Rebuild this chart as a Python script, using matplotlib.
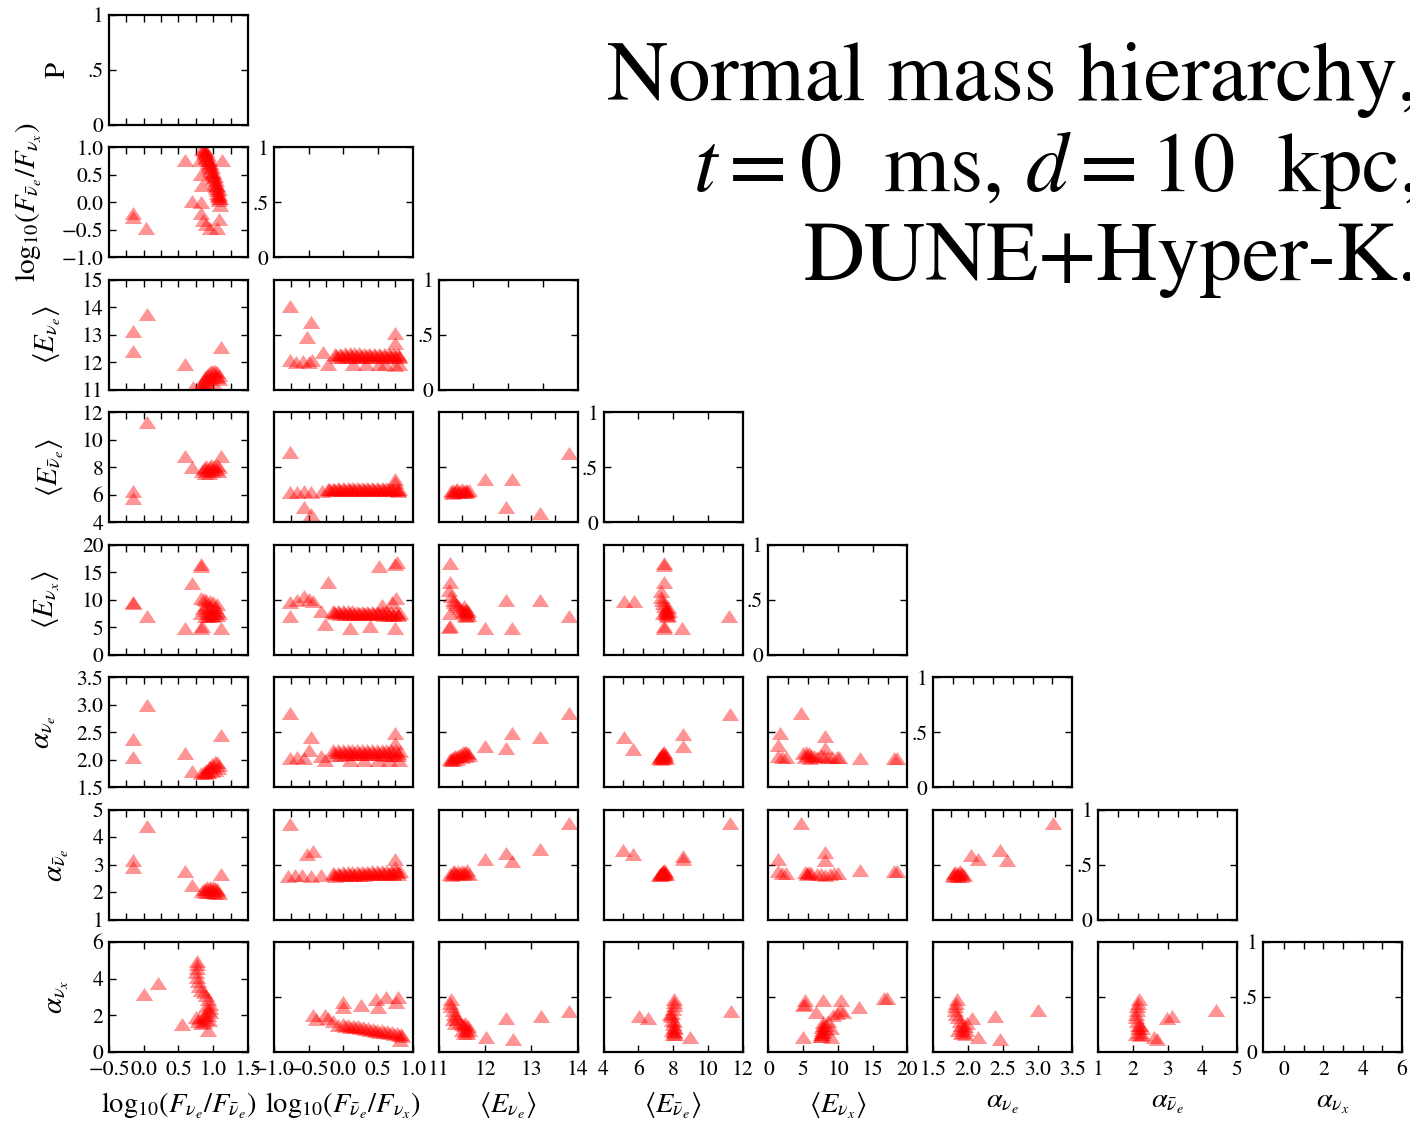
import matplotlib
matplotlib.use("Agg")
import matplotlib.pyplot as plt

plt.rcParams["font.family"] = ["STIXGeneral", "DejaVu Serif"]
plt.rcParams["mathtext.fontset"] = "stix"

# ---- parameter names / ranges ----
names = [r"$\mathrm{log}_{10}(F_{\nu_e}/F_{\bar{\nu}_e})$",
         r"$\mathrm{log}_{10}(F_{\bar{\nu}_e}/F_{\nu_x})$",
         r"$\left\langle E_{\nu_e}\right\rangle$",
         r"$\left\langle E_{\bar{\nu}_e}\right\rangle$",
         r"$\left\langle E_{\nu_x}\right\rangle$",
         r"$\alpha_{\nu_e}$",
         r"$\alpha_{\bar{\nu}_e}$",
         r"$\alpha_{\nu_x}$"]
xlims = [(-0.5, 1.5), (-1, 1), (11, 14), (4, 12), (0, 20), (1.5, 3.5), (1, 5), (-1.07, 6)]
ylims = [(0, 1), (-1, 1), (11, 15), (4, 12), (0, 20), (1.5, 3.5), (1, 5), (0, 6)]

# tick labels, bottom row (x) and first column (y)
bottom_ticks = [[-0.5, 0.0, 0.5, 1.0, 1.5], [-1.0, -0.5, 0.0, 0.5, 1.0], [11, 12, 13, 14],
                [4, 6, 8, 10, 12], [0, 5, 10, 15, 20], [1.5, 2.0, 2.5, 3.0, 3.5],
                [1, 2, 3, 4, 5], [0, 2, 4, 6]]
bottom_labels = [["\u22120.5", "0.0", "0.5", "1.0", "1.5"],
                 ["\u22121.0", "\u22120.5", "0.0", "0.5", "1.0"],
                 ["11", "12", "13", "14"], ["4", "6", "8", "10", "12"],
                 ["0", "5", "10", "15", "20"], ["1.5", "2.0", "2.5", "3.0", "3.5"],
                 ["1", "2", "3", "4", "5"], ["0", "2", "4", "6"]]
left_ticks = [[0, 0.5, 1], [-1.0, -0.5, 0.0, 0.5, 1.0], [11, 12, 13, 14, 15],
              [4, 6, 8, 10, 12], [0, 5, 10, 15, 20], [1.5, 2.0, 2.5, 3.0, 3.5],
              [1, 2, 3, 4, 5], [0, 2, 4, 6]]
left_labels = [["0", ".5", "1"], ["\u22121.0", "\u22120.5", "0.0", "0.5", "1.0"],
               ["11", "12", "13", "14", "15"], ["4", "6", "8", "10", "12"],
               ["0", "5", "10", "15", "20"], ["1.5", "2.0", "2.5", "3.0", "3.5"],
               ["1", "2", "3", "4", "5"], ["0", "2", "4", "6"]]
upper_div = [8, 8, 6, 7, 7, 8, 7, 7]
diag_div = [8, 4, 4, 4, 4, 7, 7, 7]

# ---- scatter points, one list per panel: row = y parameter, col = x parameter ----
r1_c0 = [(-0.16, -0.20), (-0.15, -0.26), (0.03, -0.46), (0.60, 0.78), (0.70, 0.03),
         (0.81, 0.78), (0.83, 0.52), (0.84, 0.32), (0.83, 0.00), (0.82, -0.20),
         (0.85, -0.32), (0.90, -0.40), (0.96, -0.46), (1.05, -0.46), (1.08, -0.30),
         (1.10, -0.05), (1.12, 0.78),
         (0.84, 0.98), (0.86, 0.92), (0.88, 0.86), (0.90, 0.80), (0.92, 0.73), (0.94, 0.66),
         (0.96, 0.58), (0.98, 0.50), (1.00, 0.42), (1.02, 0.34), (1.04, 0.26), (1.06, 0.18),
         (1.07, 0.11), (1.08, 0.05), (0.87, 0.98), (0.90, 0.93), (0.92, 0.86), (0.94, 0.79),
         (0.96, 0.72), (0.98, 0.64), (1.00, 0.56), (1.02, 0.48), (1.04, 0.40), (1.06, 0.32),
         (1.08, 0.24), (1.09, 0.16), (1.10, 0.08),
         (0.86, 0.95), (0.88, 0.89), (0.90, 0.83), (0.92, 0.77), (0.94, 0.70), (0.96, 0.62),
         (0.98, 0.54), (1.00, 0.46), (1.02, 0.38), (1.04, 0.30), (1.06, 0.22), (1.07, 0.14),
         (1.08, 0.08)]
r2_c0 = [(-0.16, 13.13), (-0.16, 12.42), (0.04, 13.77), (0.60, 11.93), (1.11, 12.55), (0.71, 11.10),
         (0.80, 11.05), (0.82, 11.15), (0.84, 11.25), (0.86, 11.35), (0.88, 11.45), (0.91, 11.55),
         (0.94, 11.62), (0.97, 11.68), (1.00, 11.70), (1.03, 11.70), (1.06, 11.64), (1.08, 11.55),
         (0.87, 11.15), (0.90, 11.28), (0.94, 11.40), (0.98, 11.48), (1.02, 11.50), (1.06, 11.45),
         (1.08, 11.38), (0.85, 11.02), (0.93, 11.12), (0.99, 11.30)]
r3_c0 = [(-0.16, 6.30), (-0.16, 5.75), (0.04, 11.27), (0.60, 8.85), (0.70, 8.00), (1.11, 8.85),
         (0.84, 7.70), (0.86, 7.95), (0.89, 8.10), (0.92, 7.80), (0.95, 8.05), (0.98, 7.70),
         (1.01, 8.10), (1.04, 7.85), (1.07, 7.70), (1.08, 8.05), (0.88, 7.60), (0.94, 7.60),
         (1.00, 7.90), (1.05, 8.15), (0.90, 7.85), (0.97, 8.15)]
r4_c0 = [(-0.16, 9.67), (-0.15, 9.40), (0.04, 7.10), (0.60, 4.80), (0.70, 12.96), (0.82, 16.50),
         (0.82, 16.20), (0.82, 4.90), (0.84, 5.20), (1.11, 4.90),
         (0.83, 10.30), (0.87, 10.20), (0.90, 10.00), (0.95, 9.80), (1.00, 9.60), (1.05, 9.20),
         (0.85, 8.50), (0.90, 8.20), (0.95, 7.60), (1.00, 7.30), (1.05, 7.20), (1.08, 7.50),
         (0.88, 7.00), (0.93, 7.00), (1.00, 8.20), (0.95, 8.70), (1.05, 8.00), (0.83, 7.60),
         (0.98, 7.00), (1.03, 7.60), (0.92, 7.80), (0.97, 7.30), (1.02, 8.60), (0.90, 9.10)]
r5_c0 = [(-0.16, 2.37), (-0.16, 2.04), (0.04, 2.99), (0.60, 2.12), (1.11, 2.45), (0.70, 1.80),
         (0.82, 1.76), (0.86, 1.78), (0.90, 1.82), (0.94, 1.87), (0.98, 1.92), (1.02, 1.95),
         (1.05, 1.95), (1.08, 1.90), (0.88, 1.76), (0.93, 1.78), (0.98, 1.80), (1.03, 1.82),
         (1.07, 1.85), (0.96, 1.86), (1.00, 1.88), (0.91, 1.77)]
r6_c0 = [(-0.16, 3.15), (-0.16, 2.90), (0.04, 4.40), (0.60, 2.78), (0.70, 2.24), (1.11, 2.67),
         (0.84, 2.05), (0.87, 2.12), (0.91, 2.18), (0.95, 2.20), (0.99, 2.20), (1.03, 2.15),
         (1.06, 2.05), (1.08, 1.98), (0.88, 2.00), (0.93, 2.02), (0.98, 2.00), (1.02, 1.98),
         (0.96, 2.10), (0.90, 2.10), (1.05, 2.12), (1.00, 2.08)]
r7_c0 = [(0.00, 3.18), (0.20, 3.76), (0.55, 1.51), (0.92, 1.18),
         (0.77, 4.95), (0.77, 4.80), (0.76, 4.60), (0.75, 4.35), (0.77, 4.10), (0.78, 3.85),
         (0.80, 3.60), (0.83, 3.40), (0.86, 3.30), (0.90, 3.10), (0.92, 2.90), (0.95, 2.60),
         (0.96, 2.40), (0.95, 2.20), (0.93, 2.00), (0.90, 1.80), (0.86, 1.65), (0.82, 1.60),
         (0.78, 1.70), (0.75, 1.90), (0.88, 2.00), (0.92, 2.30), (0.85, 1.90), (0.90, 2.50),
         (0.94, 1.75), (0.80, 1.85)]

r2_c1 = [(-0.77, 14.04), (-0.46, 13.47), (-0.53, 12.93), (-0.77, 12.08), (-0.68, 12.00),
         (-0.58, 12.05), (-0.50, 12.00), (-0.45, 12.10), (-0.29, 12.36), (-0.22, 11.95),
         (0.14, 11.93), (0.33, 11.93), (0.52, 11.93), (0.74, 11.90), (0.74, 13.05),
         (0.74, 12.69), (0.60, 11.95), (0.80, 11.95),
         (-0.12, 12.32), (-0.05, 12.32), (0.02, 12.33), (0.09, 12.33), (0.16, 12.33), (0.23, 12.33),
         (0.30, 12.32), (0.37, 12.32), (0.44, 12.32), (0.51, 12.31), (0.58, 12.31), (0.65, 12.31),
         (0.72, 12.30), (0.79, 12.30),
         (-0.10, 12.26), (-0.03, 12.26), (0.04, 12.27), (0.11, 12.27), (0.18, 12.27), (0.25, 12.27),
         (0.32, 12.26), (0.39, 12.26), (0.46, 12.26), (0.53, 12.26), (0.60, 12.25), (0.67, 12.25),
         (0.74, 12.25), (0.80, 12.24),
         (-0.09, 12.20), (-0.02, 12.21), (0.05, 12.21), (0.12, 12.21), (0.19, 12.21), (0.26, 12.21),
         (0.33, 12.20), (0.40, 12.20), (0.47, 12.20), (0.54, 12.20), (0.61, 12.19), (0.68, 12.19),
         (0.75, 12.19), (0.80, 12.18)]
r3_c1 = [(-0.77, 9.09), (-0.77, 6.18), (-0.67, 6.20), (-0.57, 6.25), (-0.46, 6.20),
         (-0.57, 5.10), (-0.46, 4.60), (-0.30, 6.30), (0.74, 7.15), (0.75, 6.90),
         (-0.22, 6.45), (-0.15, 6.45), (-0.08, 6.46), (-0.01, 6.46), (0.06, 6.47), (0.13, 6.47),
         (0.20, 6.47), (0.27, 6.47), (0.34, 6.47), (0.41, 6.47), (0.48, 6.47), (0.55, 6.46),
         (0.62, 6.46), (0.69, 6.45), (0.76, 6.45), (0.80, 6.44),
         (-0.20, 6.39), (-0.13, 6.39), (-0.06, 6.40), (0.01, 6.40), (0.08, 6.41), (0.15, 6.41),
         (0.22, 6.41), (0.29, 6.41), (0.36, 6.41), (0.43, 6.41), (0.50, 6.40), (0.57, 6.40),
         (0.64, 6.39), (0.71, 6.39), (0.78, 6.38),
         (-0.19, 6.32), (-0.12, 6.32), (-0.05, 6.33), (0.02, 6.33), (0.09, 6.34), (0.16, 6.34),
         (0.23, 6.34), (0.30, 6.34), (0.37, 6.34), (0.44, 6.34), (0.51, 6.33), (0.58, 6.33),
         (0.65, 6.32), (0.72, 6.32), (0.79, 6.31)]
r4_c1 = [(-0.77, 9.67), (-0.77, 7.10), (-0.67, 10.00), (-0.57, 10.60), (-0.50, 10.20),
         (-0.44, 9.70), (-0.22, 13.30), (-0.32, 7.90), (-0.27, 5.50), (0.09, 4.90),
         (0.38, 5.20), (0.52, 16.20), (0.74, 16.50), (0.77, 16.80), (0.74, 4.90),
         (0.76, 10.30), (0.55, 9.10), (0.70, 9.50),
         (-0.15, 7.95), (-0.08, 7.93), (-0.01, 7.91), (0.06, 7.89), (0.13, 7.87), (0.20, 7.85),
         (0.27, 7.83), (0.34, 7.81), (0.41, 7.79), (0.48, 7.77), (0.55, 7.75), (0.62, 7.73),
         (0.69, 7.71), (0.76, 7.69), (0.81, 7.67),
         (-0.13, 7.72), (-0.06, 7.70), (0.01, 7.68), (0.08, 7.66), (0.15, 7.64), (0.22, 7.62),
         (0.29, 7.60), (0.36, 7.58), (0.43, 7.56), (0.50, 7.54), (0.57, 7.52), (0.64, 7.50),
         (0.71, 7.48), (0.78, 7.46),
         (-0.12, 7.50), (-0.05, 7.48), (0.02, 7.46), (0.09, 7.44), (0.16, 7.42), (0.23, 7.40),
         (0.30, 7.38), (0.37, 7.36), (0.44, 7.34), (0.51, 7.32), (0.58, 7.30), (0.65, 7.28),
         (0.72, 7.26), (0.79, 7.24)]
r5_c1 = [(-0.77, 2.84), (-0.77, 2.03), (-0.67, 2.05), (-0.57, 2.03), (-0.50, 2.18),
         (-0.46, 2.42), (-0.32, 2.06), (-0.27, 2.00), (0.74, 2.48), (0.74, 2.30),
         (0.10, 2.00), (0.30, 2.00), (0.50, 2.00), (0.65, 2.00), (0.80, 2.00),
         (-0.15, 2.17), (-0.08, 2.17), (-0.01, 2.18), (0.06, 2.18), (0.13, 2.18), (0.20, 2.18),
         (0.27, 2.18), (0.34, 2.18), (0.41, 2.18), (0.48, 2.18), (0.55, 2.18), (0.62, 2.17),
         (0.69, 2.17), (0.76, 2.17), (0.81, 2.16),
         (-0.13, 2.13), (-0.06, 2.13), (0.01, 2.14), (0.08, 2.14), (0.15, 2.14), (0.22, 2.14),
         (0.29, 2.14), (0.36, 2.14), (0.43, 2.14), (0.50, 2.14), (0.57, 2.13), (0.64, 2.13),
         (0.71, 2.13), (0.78, 2.12),
         (-0.12, 2.09), (-0.05, 2.09), (0.02, 2.10), (0.09, 2.10), (0.16, 2.10), (0.23, 2.10),
         (0.30, 2.10), (0.37, 2.10), (0.44, 2.10), (0.51, 2.10), (0.58, 2.09), (0.65, 2.09),
         (0.72, 2.09), (0.79, 2.08)]
r6_c1 = [(-0.77, 4.46), (-0.53, 3.39), (-0.44, 3.50), (-0.80, 2.60), (-0.70, 2.62),
         (-0.60, 2.62), (-0.46, 2.60), (-0.32, 2.62), (0.74, 3.20), (0.74, 2.90),
         (-0.15, 2.70), (-0.08, 2.71), (-0.01, 2.72), (0.06, 2.72), (0.13, 2.73), (0.20, 2.73),
         (0.27, 2.74), (0.34, 2.74), (0.41, 2.75), (0.48, 2.75), (0.55, 2.76), (0.62, 2.76),
         (0.69, 2.77), (0.76, 2.77), (0.81, 2.78),
         (-0.13, 2.65), (-0.06, 2.66), (0.01, 2.66), (0.08, 2.67), (0.15, 2.67), (0.22, 2.68),
         (0.29, 2.68), (0.36, 2.69), (0.43, 2.69), (0.50, 2.70), (0.57, 2.70), (0.64, 2.71),
         (0.71, 2.71), (0.78, 2.72),
         (-0.12, 2.60), (-0.05, 2.61), (0.02, 2.61), (0.09, 2.62), (0.16, 2.62), (0.23, 2.63),
         (0.30, 2.63), (0.37, 2.64), (0.44, 2.64), (0.51, 2.65), (0.58, 2.65), (0.65, 2.66),
         (0.72, 2.66), (0.79, 2.67)]
r7_c1 = [(-0.44, 2.00), (-0.40, 1.80), (-0.27, 2.00), (-0.22, 1.85), (0.00, 2.73),
         (0.00, 2.45), (0.26, 2.55), (0.47, 2.90), (0.50, 2.45), (0.62, 3.00),
         (0.78, 3.00), (0.76, 2.75), (0.81, 0.64), (-0.08, 1.50), (-0.15, 1.70),
         (0.00, 1.53), (0.07, 1.49), (0.14, 1.44), (0.21, 1.40), (0.28, 1.36), (0.35, 1.31),
         (0.42, 1.27), (0.49, 1.22), (0.56, 1.18), (0.63, 1.13), (0.70, 1.09), (0.77, 1.04),
         (0.83, 1.00),
         (0.03, 1.42), (0.10, 1.38), (0.17, 1.34), (0.24, 1.29), (0.31, 1.25), (0.38, 1.20),
         (0.45, 1.16), (0.52, 1.11), (0.59, 1.07), (0.66, 1.02), (0.73, 0.98), (0.80, 0.93),
         (0.85, 0.89)]

r3_c2 = [(12.01, 7.15), (12.59, 7.15), (12.45, 5.14), (13.19, 4.70), (13.82, 9.07),
         (11.26, 6.25), (11.30, 6.38), (11.34, 6.22), (11.38, 6.32), (11.42, 6.20),
         (11.46, 6.30), (11.50, 6.42), (11.54, 6.30), (11.58, 6.38), (11.62, 6.26),
         (11.65, 6.35), (11.28, 6.15), (11.40, 6.42), (11.52, 6.18), (11.60, 6.18)]
r4_c2 = [(11.25, 16.70), (11.24, 13.30), (11.22, 11.80), (12.45, 10.00), (13.19, 10.00),
         (12.01, 4.85), (12.59, 4.85), (13.82, 7.10), (11.25, 5.20), (11.23, 5.00),
         (11.25, 7.60), (11.27, 10.60), (11.30, 10.00), (11.34, 9.60), (11.38, 9.20),
         (11.42, 8.80), (11.47, 8.50), (11.55, 8.80), (11.58, 8.40), (11.60, 8.00),
         (11.62, 7.60), (11.63, 7.20), (11.57, 7.30), (11.52, 7.70), (11.50, 8.20),
         (11.60, 7.00), (11.64, 7.90), (11.56, 7.90)]
r5_c2 = [(12.01, 2.25), (12.45, 2.21), (12.59, 2.48), (13.19, 2.42), (13.82, 2.84),
         (11.24, 2.02), (11.28, 2.03), (11.32, 2.05), (11.36, 2.06), (11.40, 2.07),
         (11.44, 2.09), (11.48, 2.11), (11.52, 2.13), (11.56, 2.14), (11.60, 2.14),
         (11.64, 2.12), (11.66, 2.08), (11.30, 2.00), (11.40, 2.01), (11.50, 2.04),
         (11.58, 2.06), (11.26, 2.00)]
r6_c2 = [(12.01, 3.20), (12.45, 3.43), (12.59, 3.13), (13.19, 3.55), (13.82, 4.50),
         (11.24, 2.65), (11.30, 2.72), (11.35, 2.68), (11.40, 2.65), (11.45, 2.70),
         (11.50, 2.78), (11.55, 2.74), (11.60, 2.70), (11.65, 2.66), (11.28, 2.62),
         (11.42, 2.75), (11.52, 2.64), (11.62, 2.80), (11.34, 2.76)]
r7_c2 = [(12.03, 0.82), (12.60, 0.73), (12.46, 1.88), (13.20, 1.96), (13.82, 2.25),
         (11.27, 2.90), (11.25, 2.70), (11.27, 2.50), (11.30, 2.30), (11.33, 2.10),
         (11.37, 1.95), (11.40, 1.80), (11.45, 1.65), (11.50, 1.55), (11.55, 1.45),
         (11.58, 1.30), (11.60, 1.15), (11.62, 1.02), (11.55, 1.05), (11.50, 1.20),
         (11.65, 1.20), (11.57, 1.60), (11.35, 1.60), (11.30, 1.80), (11.64, 1.40)]

r4_c3 = [(5.16, 9.70), (5.73, 9.70), (11.23, 7.00), (8.53, 4.85), (7.47, 16.70),
         (7.47, 16.40), (7.47, 13.30), (7.30, 11.50), (7.28, 10.50), (7.47, 4.85),
         (7.50, 5.20), (7.35, 9.90), (7.42, 9.40), (7.50, 8.90), (7.57, 8.50),
         (7.62, 8.10), (7.67, 7.70), (7.72, 7.30), (7.65, 7.00), (7.58, 7.40),
         (7.75, 8.00), (7.70, 8.60), (7.60, 7.80), (7.45, 7.50)]
r5_c3 = [(5.16, 2.41), (5.70, 2.19), (8.57, 2.47), (8.57, 2.25), (11.26, 2.83),
         (7.20, 2.03), (7.25, 2.05), (7.30, 2.07), (7.35, 2.10), (7.40, 2.12),
         (7.47, 2.14), (7.52, 2.10), (7.56, 2.06), (7.60, 2.03), (7.30, 2.02),
         (7.45, 2.03), (7.40, 2.06), (7.50, 2.05)]
r6_c3 = [(5.12, 3.54), (5.70, 3.38), (8.57, 3.20), (8.60, 3.30), (11.26, 4.50),
         (7.20, 2.63), (7.25, 2.66), (7.30, 2.70), (7.35, 2.74), (7.40, 2.78),
         (7.47, 2.82), (7.52, 2.76), (7.56, 2.70), (7.60, 2.64), (7.40, 2.64),
         (7.50, 2.66), (7.30, 2.63), (7.45, 2.72)]
r7_c3 = [(6.05, 1.96), (6.53, 1.88), (8.99, 0.82), (11.33, 2.25),
         (8.07, 2.90), (8.05, 2.75), (8.03, 2.55), (8.00, 2.35), (7.95, 2.15),
         (7.90, 1.95), (7.93, 1.75), (7.98, 1.55), (8.03, 1.35), (8.07, 1.15),
         (8.10, 1.00), (8.00, 1.00), (7.95, 1.20), (8.12, 1.30), (7.85, 2.10),
         (8.08, 1.70), (8.05, 1.08)]

r5_c4 = [(4.72, 2.84), (1.69, 2.49), (1.45, 2.27), (8.19, 2.43), (8.19, 2.21),
         (13.25, 2.03), (18.07, 2.03), (18.50, 2.03),
         (1.45, 2.06), (1.90, 2.05), (2.60, 2.05), (5.00, 2.12), (5.40, 2.14),
         (5.80, 2.12), (6.20, 2.08), (6.60, 2.06), (7.00, 2.04), (7.50, 2.08),
         (8.00, 2.06), (8.60, 2.05), (9.20, 2.04), (9.80, 2.05), (5.20, 2.05),
         (6.00, 2.03), (10.20, 2.05), (5.60, 2.08)]
r6_c4 = [(4.72, 4.50), (1.45, 3.20), (8.19, 3.44), (8.19, 3.18), (13.25, 2.80),
         (18.07, 2.76), (18.50, 2.76),
         (1.45, 2.76), (1.90, 2.70), (2.50, 2.70), (5.20, 2.72), (5.50, 2.70),
         (5.80, 2.72), (6.20, 2.68), (7.00, 2.66), (7.60, 2.66), (8.20, 2.62),
         (8.80, 2.65), (9.40, 2.70), (10.00, 2.68), (5.50, 2.64)]
r7_c4 = [(5.00, 0.82), (5.24, 2.84), (5.00, 2.56), (7.86, 2.84), (6.90, 2.20),
         (10.48, 2.84), (10.71, 2.20), (13.10, 2.47), (16.67, 2.93), (17.00, 2.93),
         (9.05, 0.82), (5.20, 2.60),
         (7.55, 0.90), (7.60, 1.00), (7.65, 1.10), (7.70, 1.20), (7.75, 1.35),
         (7.80, 1.50), (7.85, 1.65), (7.60, 0.85), (7.75, 1.00), (7.90, 1.10),
         (8.10, 1.25), (8.30, 1.45), (8.60, 1.70), (9.30, 2.00), (9.80, 2.15),
         (10.30, 2.30), (9.00, 1.30)]

r6_c5 = [(2.05, 3.36), (2.15, 3.20), (2.46, 3.54), (2.56, 3.15), (3.23, 4.50),
         (1.78, 2.62), (1.80, 2.68), (1.82, 2.72), (1.84, 2.65), (1.86, 2.70),
         (1.88, 2.75), (1.90, 2.70), (1.92, 2.65), (1.85, 2.60), (1.90, 2.60),
         (1.80, 2.58), (1.94, 2.62)]
r7_c5 = [(2.06, 1.88), (2.14, 0.82), (2.39, 1.96), (2.46, 0.73), (3.00, 2.29),
         (1.84, 2.90), (1.83, 2.70), (1.82, 2.50), (1.82, 2.30), (1.83, 2.10),
         (1.85, 1.90), (1.88, 1.70), (1.90, 1.50), (1.92, 1.30), (1.93, 1.10),
         (1.96, 1.00), (1.97, 1.20), (1.95, 1.40), (1.86, 1.20), (1.90, 1.05),
         (1.98, 1.60)]

r7_c6 = [(2.70, 0.73), (2.60, 0.82), (2.99, 1.88), (3.13, 1.96), (4.38, 2.29),
         (2.17, 2.90), (2.15, 2.70), (2.13, 2.50), (2.12, 2.30), (2.10, 2.10),
         (2.10, 1.90), (2.12, 1.70), (2.14, 1.50), (2.16, 1.30), (2.18, 1.10),
         (2.20, 0.95), (2.25, 1.00), (2.25, 1.30), (2.20, 1.50), (2.10, 1.00)]

panels = {(1, 0): r1_c0, (2, 0): r2_c0, (3, 0): r3_c0, (4, 0): r4_c0, (5, 0): r5_c0,
          (6, 0): r6_c0, (7, 0): r7_c0, (2, 1): r2_c1, (3, 1): r3_c1, (4, 1): r4_c1,
          (5, 1): r5_c1, (6, 1): r6_c1, (7, 1): r7_c1, (3, 2): r3_c2, (4, 2): r4_c2,
          (5, 2): r5_c2, (6, 2): r6_c2, (7, 2): r7_c2, (4, 3): r4_c3, (5, 3): r5_c3,
          (6, 3): r6_c3, (7, 3): r7_c3, (5, 4): r5_c4, (6, 4): r6_c4, (7, 4): r7_c4,
          (6, 5): r6_c5, (7, 5): r7_c5, (7, 6): r7_c6}

# right edge of y labels (axes fraction)
ylab_x = [-0.28, -0.47, -0.33, -0.31, -0.34, -0.37, -0.27, -0.27]

tri = [(0, 0.75), (-1, -0.75), (1, -0.75)]

fig = plt.figure(figsize=(14.1, 11.34), dpi=100)
gs = fig.add_gridspec(8, 8, left=0.0773, right=0.9943, top=0.9868, bottom=0.0723,
                      wspace=0.186, hspace=0.204)


def even(lo, hi, n):
    return [lo + (hi - lo) * k / n for k in range(1, n)]


for r in range(8):
    for c in range(r + 1):
        ax = fig.add_subplot(gs[r, c])
        if (r, c) in panels:
            xs = [p[0] for p in panels[(r, c)]]
            ys = [p[1] for p in panels[(r, c)]]
            ax.plot(xs, ys, ls="none", marker=tri, ms=12.5, color="red",
                    alpha=0.42, mew=0)
        ax.set_xlim(*xlims[c])
        ax.set_ylim(*(ylims[0] if r == c else ylims[r]))
        for s in ax.spines.values():
            s.set_linewidth(1.6)
        ax.tick_params(which="both", direction="in", top=True, right=True,
                       length=5, width=1, labelsize=15.5)
        ax.tick_params(axis="x", pad=6)
        ax.tick_params(axis="y", pad=4)

        # x ticks
        if r == 7:
            ax.set_xticks(bottom_ticks[c])
            ax.set_xticklabels(bottom_labels[c])
            if c == 7:
                ax.set_xticks([1, 3, 5], minor=True)
            ax.set_xlabel(names[c], fontsize=20.5)
            ax.xaxis.set_label_coords(0.5, -0.35)
        elif r == c:
            ax.set_xticks(even(*xlims[c], diag_div[c]))
            ax.set_xticklabels([])
        else:
            ax.set_xticks(even(*xlims[c], upper_div[c]))
            ax.set_xticklabels([])

        # y ticks
        if r == c:
            ax.set_yticks(left_ticks[0])
            ax.set_yticklabels(left_labels[0])
        elif c == 0:
            ax.set_yticks(left_ticks[r])
            ax.set_yticklabels(left_labels[r])
        else:
            lo, hi = ylims[r]
            ax.set_yticks([(lo + hi) / 2])
            ax.set_yticklabels([])

        if c == 0:
            ax.set_ylabel("P" if r == 0 else names[r], fontsize=21)
            ax.yaxis.set_label_coords(ylab_x[r], 0.5)

title_lines = ["Normal mass hierarchy,", r"$t=0$  ms, $d=10$  kpc,", "DUNE+Hyper-K."]
for line, yb in zip(title_lines, [0.912, 0.832, 0.753]):
    fig.text(1.006, yb, line, ha="right", va="baseline", fontsize=61)

fig.savefig("out.png", dpi=100)
